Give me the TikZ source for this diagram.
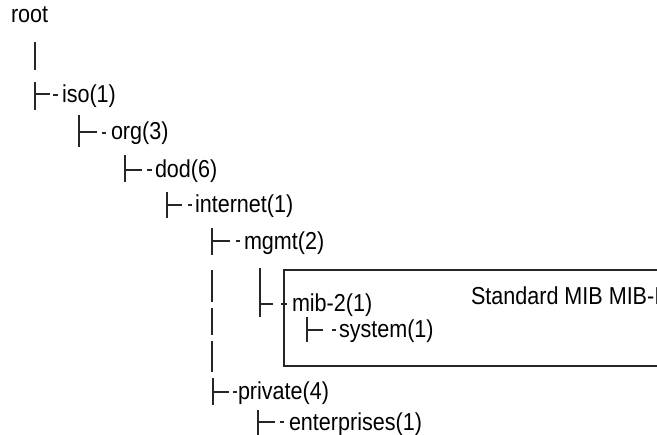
\documentclass[tikz,border=0pt]{standalone}
\usepackage{fontspec}
\setmainfont[FakeStretch=0.88]{Liberation Sans}
\begin{document}
\begin{tikzpicture}[x=1pt,y=-1pt,
  lbl/.style={anchor=base west,inner sep=0pt,outer sep=0pt,font=\fontsize{24.5}{28}\selectfont},
  treeline/.style={line width=2pt,black!85},
  mibbox/.style={draw,line width=2pt,black!85}]
\useasboundingbox (0,0) rectangle (657,435);
\clip (0,0) rectangle (657,435);
% text nodes
\node[lbl] (root) at (11,23) {root};
\node[lbl] (iso) at (62,103) {iso(1)};
\node[lbl] (org) at (111,140) {org(3)};
\node[lbl] (dod) at (155,178) {dod(6)};
\node[lbl] (internet) at (195,213) {internet(1)};
\node[lbl] (mgmt) at (244,250) {mgmt(2)};
\node[lbl] (mib) at (292,312) {mib-2(1)};
\node[lbl] (system) at (339,338) {system(1)};
\node[lbl] (private) at (238,400) {private(4)};
\node[lbl] (enterprises) at (289,431) {enterprises(1)};
% box
\draw[mibbox] (284,270) rectangle (720,366);
\node[lbl] (std) at (471,305) {Standard MIB MIB-II};
% root bar
\draw[treeline] (35,42) -- (35,70);
% iso
\draw[treeline] (35,82) -- (35,110) (35,94) -- (50,94) (53,95) -- (58,95);
% org
\draw[treeline] (79,115) -- (79,147) (79,132) -- (97,132) (102,133) -- (106,133);
% dod
\draw[treeline] (125,155) -- (125,182) (125,170) -- (142,170) (147,170) -- (152,170);
% internet
\draw[treeline] (167,192) -- (167,218) (167,205) -- (182,205) (188,205) -- (192,205);
% mgmt
\draw[treeline] (212,228) -- (212,255) (212,241) -- (230,241) (236,241) -- (240,241);
% broken bar
\draw[treeline] (212,270) -- (212,302) (212,308) -- (212,335) (212,341) -- (212,372);
% mib-2
\draw[treeline] (260,268) -- (260,317) (260,304) -- (273,304) (281,304) -- (287,304);
% system
\draw[treeline] (307,317) -- (307,342) (307,330) -- (323,330) (332,330) -- (336,330);
% private
\draw[treeline] (213,378) -- (213,405) (213,392) -- (229,392) (233,392) -- (237,392);
% enterprises
\draw[treeline] (258,410) -- (258,436) (258,422) -- (275,422) (280,422) -- (284,422);
\end{tikzpicture}
\end{document}
